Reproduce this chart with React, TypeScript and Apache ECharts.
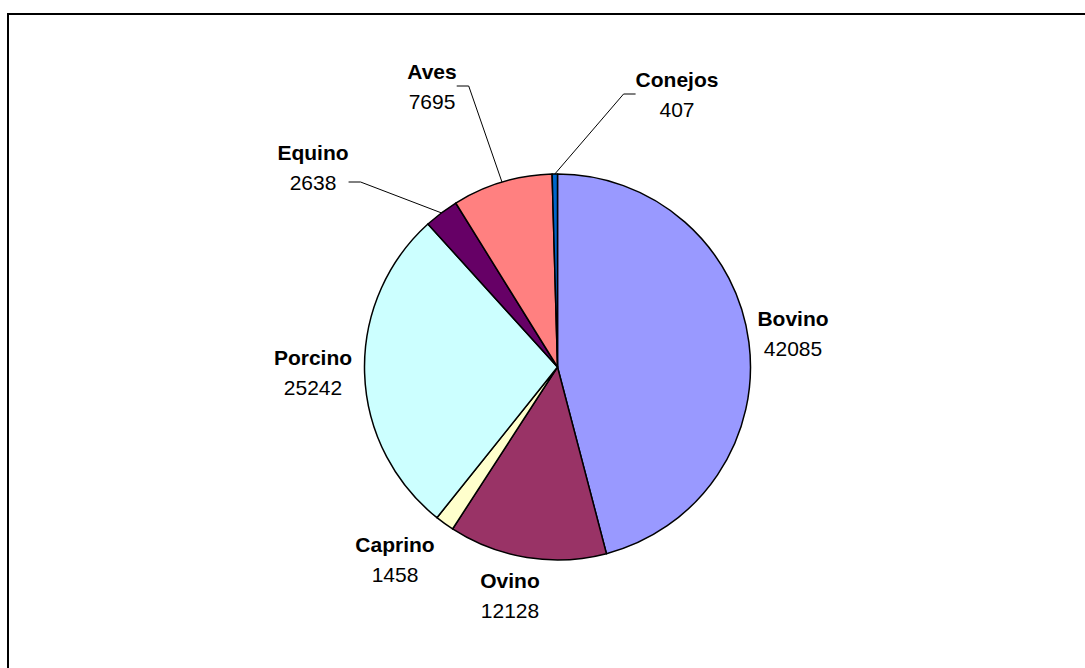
import React, { useEffect, useRef } from 'react';
import * as echarts from 'echarts';

const categories = ['Bovino', 'Ovino', 'Caprino', 'Porcino', 'Equino', 'Aves', 'Conejos'];
const values = [42085, 12128, 1458, 25242, 2638, 7695, 407];
const colors = ['#9999FF', '#993366', '#FFFFCC', '#CCFFFF', '#660066', '#FF8080', '#0066CC'];
// label text centre positions (layout only)
const labelCenters = [[793, 333], [510, 595], [395, 559], [313, 372], [313, 182], [432, 86], [677, 94]];
const withLeader = [false, false, false, false, true, true, true];
const anchorOnValue = [false, false, false, false, true, false, false];
// extra left padding so the leader line attaches on the right side
const padLeft = [0, 0, 0, 0, 0, 70, 0];

const FONT = '"Liberation Sans", Arial, sans-serif';

export default function App() {
  const ref = useRef<HTMLDivElement>(null);
  useEffect(() => {
    if (!ref.current) return;
    const chart = echarts.init(ref.current, null, { renderer: 'svg' });
    const data = categories.map((name, i) => ({
      name,
      value: values[i],
      itemStyle: { color: colors[i] },
      label: padLeft[i]
        ? { padding: [0, 0, 0, padLeft[i]], backgroundColor: 'rgba(255,255,255,0)' }
        : {},
      labelLine: { show: withLeader[i] },
    }));
    chart.setOption({
      animation: false,
      backgroundColor: '#ffffff',
      graphic: [
        {
          type: 'rect',
          shape: { x: 8, y: 14, width: 1100, height: 700 },
          style: { fill: 'none', stroke: '#000', lineWidth: 2 },
          silent: true,
        },
      ],
      series: [
        {
          type: 'pie',
          center: [557.5, 367],
          radius: 193,
          startAngle: 90,
          clockwise: true,
          avoidLabelOverlap: false,
          data,
          itemStyle: { borderColor: '#000', borderWidth: 1.5 },
          label: {
            show: true,
            position: 'outside',
            color: '#000',
            fontFamily: FONT,
            formatter: (p: any) =>
              `{b|${p.name}}\n{c|${p.value}}` + (anchorOnValue[p.dataIndex] ? '\n{c| }' : ''),
            rich: {
              b: { fontWeight: 'bold', fontSize: 21, lineHeight: 30, fontFamily: FONT, color: '#000' },
              c: { fontSize: 21, lineHeight: 30, fontFamily: FONT, color: '#000' },
            },
          },
          labelLine: {
            show: false,
            length: 10,
            length2: 12,
            lineStyle: { color: '#000', width: 1 },
          },
          labelLayout: (params: any) => {
            const i = params.dataIndex;
            const c = labelCenters[i];
            return { x: c[0] - padLeft[i] / 2, y: c[1], align: 'center', verticalAlign: 'middle' };
          },
          emphasis: { disabled: true },
        },
      ],
    });
    return () => chart.dispose();
  }, []);
  return (
    <div
      ref={ref}
      style={{ position: 'fixed', left: 0, top: 0, width: 1085, height: 668, background: '#fff' }}
    />
  );
}
